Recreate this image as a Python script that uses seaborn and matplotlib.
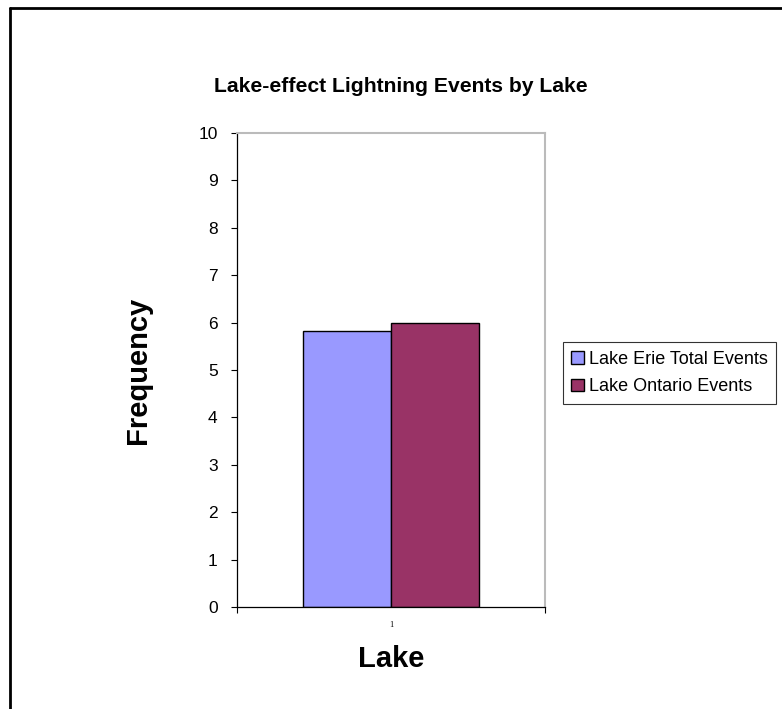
import pandas as pd
import matplotlib.pyplot as plt
import seaborn as sns
from matplotlib.lines import Line2D

# datos del grafico
lagos = ["Lake Erie Total Events", "Lake Ontario Events"]
frecuencia = [5.82, 6.0]
categoria = ["1", "1"]
colores = ["#9999FF", "#993366"]

df = pd.DataFrame({"cat": categoria, "serie": lagos, "freq": frecuencia})

sns.set_style("white")
plt.rcParams['font.family'] = ['Liberation Sans', 'DejaVu Sans']
plt.rcParams['text.color'] = 'black'
plt.rcParams['axes.labelcolor'] = 'black'
plt.rcParams['xtick.color'] = 'black'
plt.rcParams['ytick.color'] = 'black'

fig = plt.figure(figsize=(7.82, 7.09), dpi=100)
ax = fig.add_axes([237/782, 102/709, 308/782, 474/709])

sns.barplot(data=df, x="cat", y="freq", hue="serie", palette=colores, saturation=1,
            width=0.571, edgecolor="black", linewidth=1, ax=ax, legend=True)

ax.set_xlim(-0.5, 0.5)
ax.set_ylim(0, 10)
ax.set_yticks(range(0, 11))
ax.tick_params(axis="y", labelsize=12.5, length=4, width=0.8, color="black", pad=10, left=True)

# ticks de x: marca en los bordes, etiqueta en el centro
ax.set_xticks([0])
ax.set_xticklabels(["1"], fontsize=6, family="Liberation Serif")
ax.tick_params(axis="x", length=0, pad=10)
ax.set_xticks([-0.5, 0.5], minor=True)
ax.tick_params(axis="x", which="minor", length=4, width=0.8, color="black", bottom=True)

for s in ["left", "bottom"]:
    ax.spines[s].set_color("black")
    ax.spines[s].set_linewidth(0.9)
for s in ["top", "right"]:
    ax.spines[s].set_color("#BBBBBB")
    ax.spines[s].set_linewidth(1.5)

ax.set_xlabel("Lake", fontsize=21, fontweight="bold")
ax.set_ylabel("Frequency", fontsize=21, fontweight="bold")
ax.xaxis.set_label_coords(0.5, -0.11)
ax.yaxis.set_label_coords(-0.32, 0.5)
ax.xaxis.label.set_va("center")
ax.yaxis.label.set_va("center")

fig.text(401/782, 1 - 87/709, "Lake-effect Lightning Events by Lake",
         ha="center", va="center", fontsize=15.2, fontweight="bold")

leg = ax.legend(loc="center left", bbox_to_anchor=(563/782, 1 - 373/709),
                bbox_transform=fig.transFigure, frameon=True, fancybox=False,
                fontsize=13, handlelength=0.7, handleheight=0.7,
                handletextpad=0.3, borderpad=0.45, labelspacing=0.6,
                borderaxespad=0)
leg.get_frame().set_edgecolor("black")
leg.get_frame().set_linewidth(0.8)

# marco exterior
fig.add_artist(Line2D([10/782, 10/782], [0, 1 - 8/709], transform=fig.transFigure,
                      color="black", linewidth=2))
fig.add_artist(Line2D([10/782, 1], [1 - 8/709, 1 - 8/709], transform=fig.transFigure,
                      color="black", linewidth=2))

plt.savefig("out.png", dpi=100)
